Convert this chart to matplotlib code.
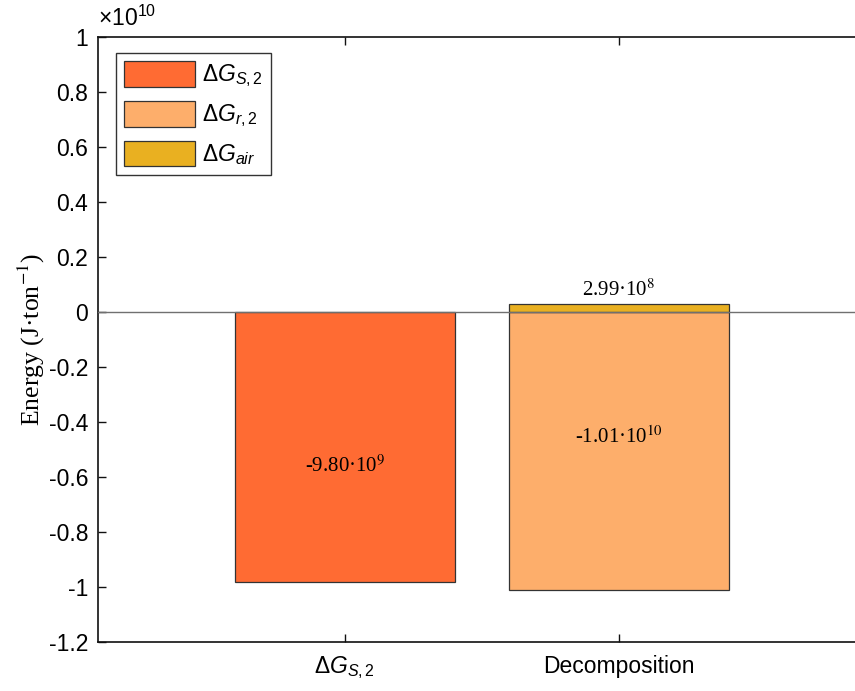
import matplotlib
matplotlib.use("Agg")
import matplotlib.pyplot as plt
from matplotlib.ticker import MultipleLocator, FuncFormatter
from matplotlib.patches import Patch

plt.rcParams["axes.unicode_minus"] = False
plt.rcParams["font.family"] = ["Liberation Sans", "DejaVu Sans"]
plt.rcParams["mathtext.fontset"] = "custom"
plt.rcParams["mathtext.rm"] = "Liberation Sans"
plt.rcParams["mathtext.it"] = "Liberation Sans:italic"
plt.rcParams["mathtext.bf"] = "Liberation Sans:bold"

# Energy terms (J per ton)
categories = [r"$\Delta G_{S,2}$", "Decomposition"]
dG_S2 = -9.80e9
dG_r2 = -1.01e10
dG_air = 2.99e8
value_labels = ["-9.80·10$^{9}$", "-1.01·10$^{10}$", "2.99·10$^{8}$"]

colors = {"S2": "#FF6B33", "r2": "#FDAE6B", "air": "#E9B021"}
edge = "#333333"

fig = plt.figure(figsize=(8.55, 6.91), dpi=100)
W, H = 855, 691
x0, x1 = 98, 866
y0, y1 = 642, 37
ax = fig.add_axes([x0 / W, 1 - y0 / H, (x1 - x0) / W, (y0 - y1) / H])

pos = [1, 2]
bw = 0.8
ax.bar(pos[0], dG_S2, width=bw, color=colors["S2"], edgecolor=edge, linewidth=0.9, zorder=3)
ax.bar(pos[1], dG_r2, width=bw, color=colors["r2"], edgecolor=edge, linewidth=0.9, zorder=3)
ax.bar(pos[1], dG_air, width=bw, color=colors["air"], edgecolor=edge, linewidth=0.9, zorder=3)

ax.axhline(0, color="#707070", linewidth=1.0, zorder=4)

ax.set_xlim(0.1, 2.9)
ax.set_ylim(-1.2e10, 1.0e10)
ax.set_xticks(pos)
ax.set_xticklabels(categories, fontsize=16.5)
ax.yaxis.set_major_locator(MultipleLocator(0.2e10))
ax.yaxis.set_major_formatter(FuncFormatter(lambda v, p: f"{round(v / 1e10, 1):g}"))
ax.tick_params(axis="both", direction="in", length=6, width=1.0, labelsize=16.5,
               top=True, right=True, color="#111111")
ax.tick_params(axis="x", pad=9)
ax.tick_params(axis="y", pad=7)
for s in ax.spines.values():
    s.set_linewidth(1.2)
    s.set_color("#111111")

ax.text(0.0, 1.01, r"$\times10^{10}$", transform=ax.transAxes, fontsize=16.5,
        ha="left", va="bottom")

ax.set_ylabel("Energy (J·ton$^{-1}$)", family="Liberation Serif",
              math_fontfamily="stix", fontsize=18.5)
ax.yaxis.set_label_coords(-0.067, 0.5)

serif = dict(family="Liberation Serif", math_fontfamily="stix", fontsize=15,
             ha="center", zorder=5)
ax.text(pos[0], dG_S2 * 0.572, value_labels[0], va="center", **serif)
ax.text(pos[1], dG_r2 * 0.452, value_labels[1], va="center", **serif)
ax.annotate(value_labels[2], (pos[1], dG_air), xytext=(0, 2),
            textcoords="offset points", va="bottom", **serif)

handles = [Patch(facecolor=colors["S2"], edgecolor=edge, linewidth=0.9),
           Patch(facecolor=colors["r2"], edgecolor=edge, linewidth=0.9),
           Patch(facecolor=colors["air"], edgecolor=edge, linewidth=0.9)]
labels = [r"$\Delta G_{S,2}$", r"$\Delta G_{r,2}$", r"$\Delta G_{air}$"]
leg = ax.legend(handles, labels, loc="upper left",
                bbox_to_anchor=(18 / (x1 - x0), 1 - 16 / (y0 - y1)),
                fontsize=16.5, handlelength=3.1, handleheight=1.35, labelspacing=0.5,
                handletextpad=0.3, borderpad=0.35, borderaxespad=0.0,
                fancybox=False, framealpha=1, edgecolor="#333333")
leg.get_frame().set_linewidth(1.0)

fig.savefig("out.png", dpi=100)
